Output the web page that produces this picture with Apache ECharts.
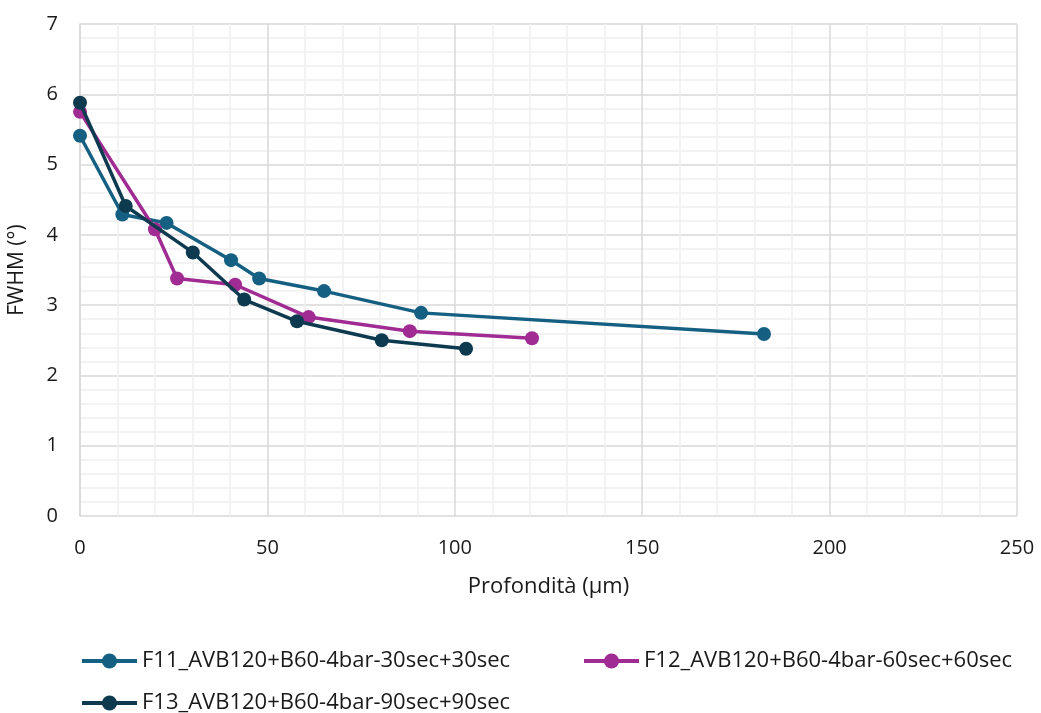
<!DOCTYPE html>
<html>
<head>
<meta charset="utf-8">
<script src="https://cdn.jsdelivr.net/npm/echarts@6/dist/echarts.min.js"></script>
<style>
  html, body { margin: 0; padding: 0; background: #fff; }
  #chart { width: 1041px; height: 713px; }
</style>
</head>
<body>
<div id="chart"></div>
<script>
// Depth (µm) and FWHM (°) for each sample
const seriesNames = [
  'F11_AVB120+B60-4bar-30sec+30sec',
  'F12_AVB120+B60-4bar-60sec+60sec',
  'F13_AVB120+B60-4bar-90sec+90sec'
];
const f11Depth = [0, 11.3, 23.1, 40.3, 47.8, 65.1, 91.0, 182.5];
const f11Fwhm  = [5.41, 4.29, 4.17, 3.64, 3.38, 3.20, 2.89, 2.59];
const f12Depth = [0, 20.0, 25.9, 41.4, 61.0, 88.0, 120.6];
const f12Fwhm  = [5.75, 4.08, 3.38, 3.29, 2.83, 2.63, 2.53];
const f13Depth = [0, 12.2, 30.1, 43.8, 57.9, 80.5, 103.0];
const f13Fwhm  = [5.88, 4.41, 3.75, 3.08, 2.77, 2.50, 2.38];
const colors = ['#156082', '#A02B93', '#0E3A50'];

const zip = (xs, ys) => xs.map((x, i) => [x, ys[i]]);
const seriesData = [zip(f11Depth, f11Fwhm), zip(f12Depth, f12Fwhm), zip(f13Depth, f13Fwhm)];

const font = '"Open Sans", "Noto Sans", sans-serif';
const textColor = '#1a1a1a';
const chart = echarts.init(document.getElementById('chart'));

const legendBase = {
  orient: 'horizontal',
  itemWidth: 55,
  itemHeight: 19,
  itemGap: 4,
  padding: 0,
  lineStyle: { width: 4 },
  textStyle: { fontFamily: font, fontSize: 22, color: textColor }
};

chart.setOption({
  animation: false,
  color: colors,
  grid: { left: 80, right: 24, top: 24, bottom: 197, containLabel: false, outerBoundsMode: 'none' },
  xAxis: {
    type: 'value',
    min: 0, max: 250, interval: 50,
    name: 'Profondità (µm)',
    nameLocation: 'middle',
    nameGap: 60,
    nameTextStyle: { fontFamily: font, fontSize: 22, color: textColor },
    axisLine: { show: false },
    axisTick: { show: false },
    axisLabel: { margin: 22, fontFamily: font, fontSize: 20, color: textColor },
    splitLine: { show: true, lineStyle: { color: '#D9D9D9', width: 1.5 } },
    minorTick: { show: false, splitNumber: 5 },
    minorSplitLine: { show: true, lineStyle: { color: '#F0F0F0', width: 1.5 } }
  },
  yAxis: {
    type: 'value',
    min: 0, max: 7, interval: 1,
    name: 'FWHM (°)',
    nameLocation: 'middle',
    nameGap: 52,
    nameTextStyle: { fontFamily: font, fontSize: 21, color: textColor },
    axisLine: { show: true, lineStyle: { color: '#D9D9D9', width: 1.5 } },
    axisTick: { show: false },
    axisLabel: { margin: 22, fontFamily: font, fontSize: 20, color: textColor },
    splitLine: { show: true, lineStyle: { color: '#D9D9D9', width: 1.5 } },
    minorTick: { show: false, splitNumber: 5 },
    minorSplitLine: { show: true, lineStyle: { color: '#F0F0F0', width: 1.5 } }
  },
  legend: [
    Object.assign({}, legendBase, { data: [seriesNames[0]], left: 80, top: 650 }),
    Object.assign({}, legendBase, { data: [seriesNames[1]], left: 582, top: 650 }),
    Object.assign({}, legendBase, { data: [seriesNames[2]], left: 80, top: 692 })
  ],
  series: seriesNames.map((name, i) => ({
    name,
    type: 'line',
    data: seriesData[i],
    symbol: 'circle',
    symbolSize: 14,
    lineStyle: { width: 3.5, color: colors[i] },
    itemStyle: { color: colors[i] },
    z: 3 + i
  }))
});
</script>
</body>
</html>
